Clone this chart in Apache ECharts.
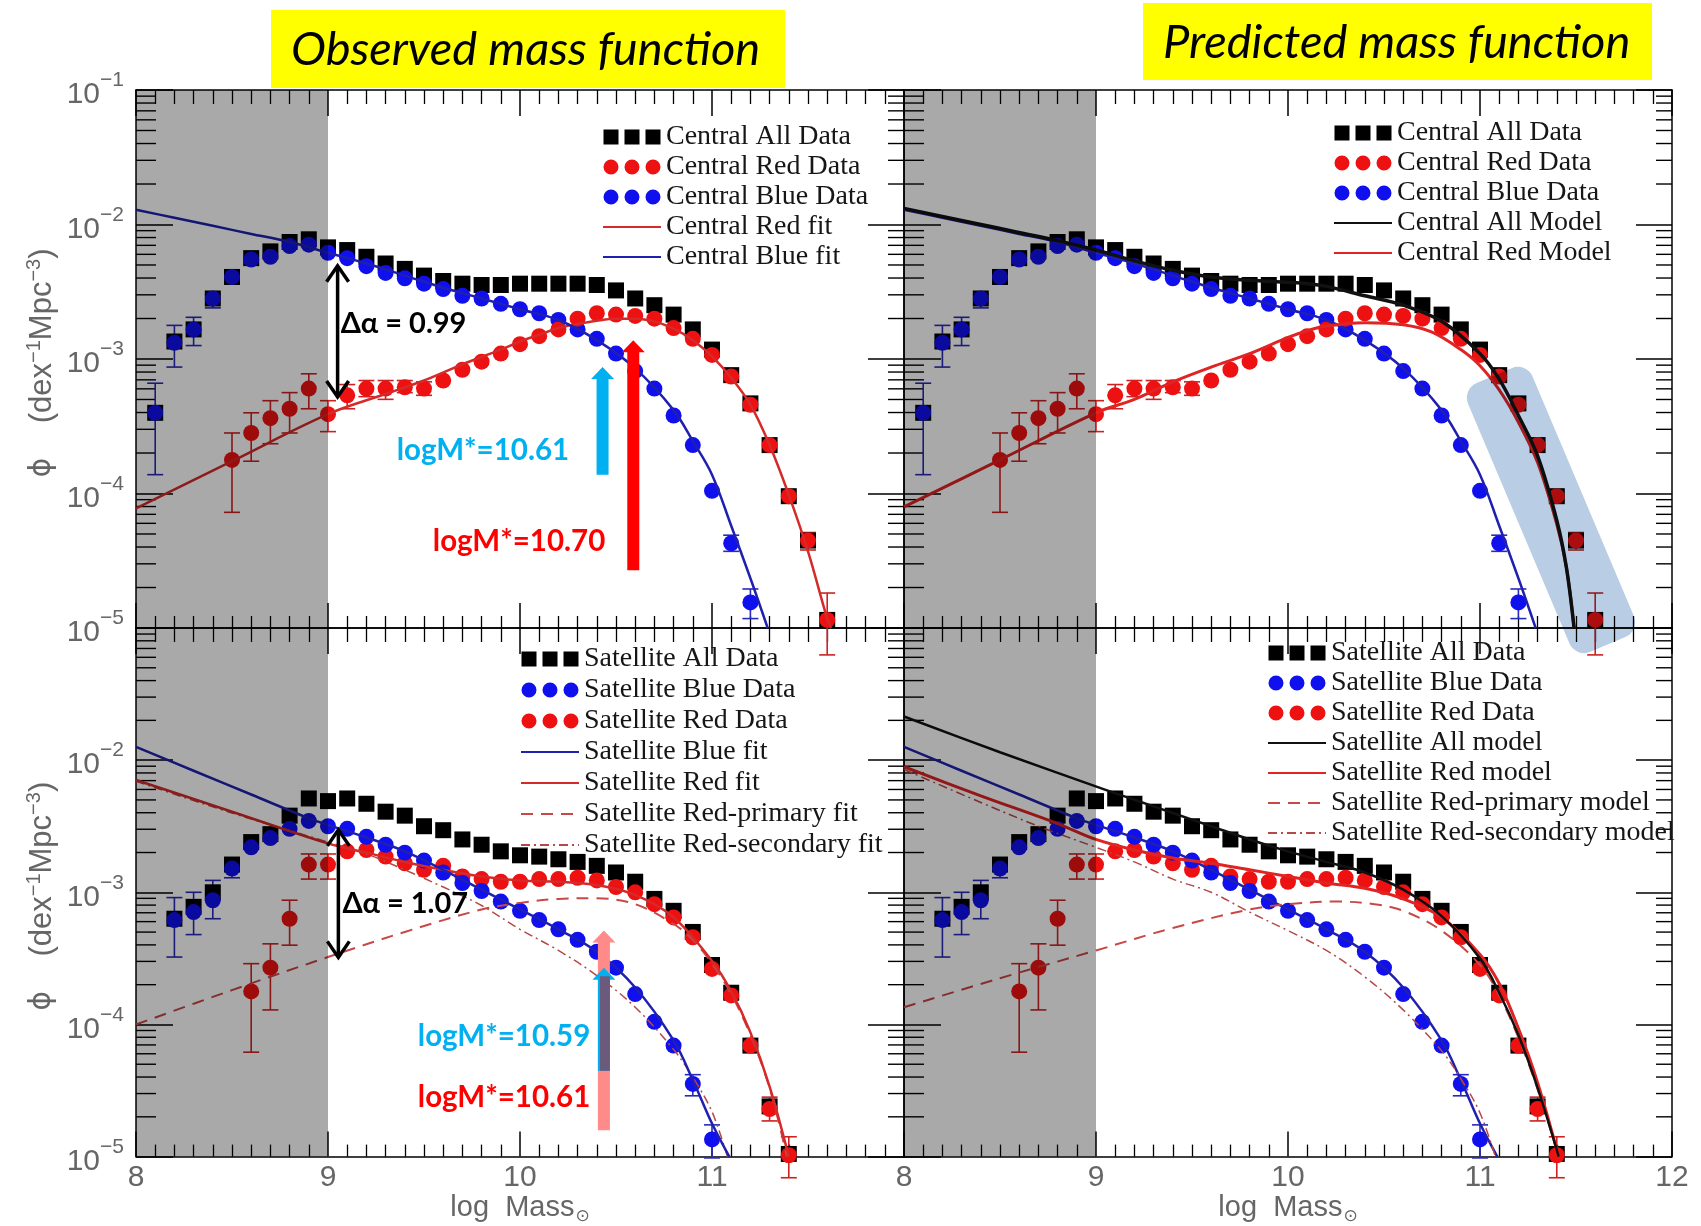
<!DOCTYPE html>
<html>
<head>
<meta charset="utf-8">
<script src="https://cdn.jsdelivr.net/npm/echarts@6/dist/echarts.min.js"></script>
<style>
html,body{margin:0;padding:0;background:#ffffff;}
#chart{width:1701px;height:1226px;}
</style>
</head>
<body>
<div id="chart"></div>
<script>
// ---------------- DATA (log10 of phi) ----------------
const xTicks = [8, 9, 10, 11, 12];
const xTickLabels = ['8', '9', '10', '11', '12'];
const yTickExps = [-5, -4, -3, -2, -1];
const yTickSups = ['\u22125', '\u22124', '\u22123', '\u22122', '\u22121'];

// Central galaxies (same observed data in both top panels)
const cenX = [8.1,8.2,8.3,8.4,8.5,8.6,8.7,8.8,8.9,9.0,9.1,9.2,9.3,9.4,9.5,9.6,9.7,9.8,9.9,10.0,10.1,10.2,10.3,10.4,10.5,10.6,10.7,10.8,10.9,11.0,11.1,11.2,11.3,11.4,11.5,11.6];
const cenAll = [-3.40,-2.87,-2.78,-2.55,-2.39,-2.25,-2.20,-2.13,-2.11,-2.17,-2.19,-2.24,-2.29,-2.33,-2.38,-2.42,-2.44,-2.45,-2.45,-2.44,-2.44,-2.44,-2.44,-2.45,-2.49,-2.55,-2.60,-2.67,-2.78,-2.93,-3.12,-3.33,-3.64,-4.02,-4.35,-4.94];
const cenBlueX = [8.1,8.2,8.3,8.4,8.5,8.6,8.7,8.8,8.9,9.0,9.1,9.2,9.3,9.4,9.5,9.6,9.7,9.8,9.9,10.0,10.1,10.2,10.3,10.4,10.5,10.6,10.7,10.8,10.9,11.0,11.1,11.2];
const cenBlue = [-3.40,-2.88,-2.78,-2.55,-2.39,-2.26,-2.24,-2.16,-2.15,-2.21,-2.25,-2.31,-2.36,-2.40,-2.44,-2.48,-2.53,-2.55,-2.59,-2.63,-2.66,-2.71,-2.78,-2.85,-2.96,-3.09,-3.22,-3.42,-3.64,-3.98,-4.37,-4.81];
const cenRedX = [8.5,8.6,8.7,8.8,8.9,9.0,9.1,9.2,9.3,9.4,9.5,9.6,9.7,9.8,9.9,10.0,10.1,10.2,10.3,10.4,10.5,10.6,10.7,10.8,10.9,11.0,11.1,11.2,11.3,11.4,11.5,11.6];
const cenRed = [-3.75,-3.55,-3.44,-3.37,-3.22,-3.41,-3.27,-3.22,-3.22,-3.21,-3.22,-3.16,-3.08,-3.02,-2.96,-2.89,-2.83,-2.78,-2.70,-2.66,-2.67,-2.68,-2.70,-2.77,-2.85,-2.97,-3.13,-3.34,-3.64,-4.02,-4.35,-4.94];
// error bars: [x, upper, lower]
const cenBlueErr = [[8.1,-3.18,-3.86],[8.2,-2.75,-3.06],[8.3,-2.69,-2.90],[8.4,-2.52,-2.62],[11.1,-4.31,-4.43],[11.2,-4.71,-4.93]];
const cenRedErr = [[8.5,-3.55,-4.14],[8.6,-3.40,-3.76],[8.7,-3.31,-3.63],[8.8,-3.25,-3.55],[8.9,-3.11,-3.37],[9.0,-3.31,-3.54],[9.1,-3.19,-3.37],[9.2,-3.16,-3.28],[9.3,-3.16,-3.30],[9.4,-3.16,-3.25],[9.5,-3.17,-3.27],[11.5,-4.29,-4.42],[11.6,-4.74,-5.2]];

// fits / models (central)
const cenBlueFitX = [8.0,8.2,8.4,8.6,8.8,9.0,9.2,9.4,9.6,9.8,10.0,10.2,10.4,10.6,10.8,10.9,11.0,11.1,11.2,11.29];
const cenBlueFit = [-1.89,-1.95,-2.01,-2.07,-2.13,-2.21,-2.29,-2.38,-2.47,-2.55,-2.63,-2.71,-2.86,-3.07,-3.38,-3.61,-3.86,-4.24,-4.63,-5.0];
const cenRedFitX = [8.0,8.5,9.0,9.3,9.5,9.7,9.9,10.0,10.1,10.2,10.3,10.4,10.5,10.6,10.7,10.8,10.9,11.0,11.1,11.2,11.3,11.4,11.5,11.6,11.62];
const cenRedFit = [-4.11,-3.76,-3.41,-3.26,-3.16,-3.04,-2.93,-2.87,-2.82,-2.77,-2.74,-2.715,-2.70,-2.70,-2.72,-2.775,-2.86,-2.98,-3.14,-3.34,-3.64,-4.01,-4.43,-4.93,-5.0];
const cenAllModelX = [8.0,8.4,8.8,9.0,9.2,9.4,9.6,9.8,10.0,10.1,10.2,10.4,10.6,10.8,11.0,11.1,11.2,11.3,11.4,11.45,11.49];
const cenAllModel = [-1.88,-2.00,-2.12,-2.19,-2.27,-2.34,-2.39,-2.415,-2.43,-2.44,-2.46,-2.53,-2.60,-2.72,-2.96,-3.15,-3.42,-3.72,-4.20,-4.55,-5.0];
const cenRedModelX = [8.0,8.5,9.0,9.2,9.4,9.6,9.8,10.0,10.1,10.2,10.4,10.6,10.75,10.9,11.0,11.1,11.2,11.3,11.4,11.45,11.49];
const cenRedModel = [-4.10,-3.75,-3.40,-3.30,-3.17,-3.06,-2.96,-2.84,-2.79,-2.755,-2.73,-2.745,-2.80,-2.93,-3.05,-3.23,-3.47,-3.77,-4.23,-4.55,-5.0];

// Satellite galaxies (same observed data in both bottom panels)
const satX = [8.2,8.3,8.4,8.5,8.6,8.7,8.8,8.9,9.0,9.1,9.2,9.3,9.4,9.5,9.6,9.7,9.8,9.9,10.0,10.1,10.2,10.3,10.4,10.5,10.6,10.7,10.8,10.9,11.0,11.1,11.2,11.3,11.4];
const satAll = [-3.20,-3.11,-3.00,-2.79,-2.62,-2.56,-2.42,-2.29,-2.31,-2.29,-2.33,-2.39,-2.42,-2.50,-2.53,-2.60,-2.64,-2.69,-2.72,-2.73,-2.75,-2.77,-2.80,-2.85,-2.92,-3.05,-3.14,-3.30,-3.55,-3.76,-4.16,-4.62,-4.98];
const satBlueX = [8.2,8.3,8.4,8.5,8.6,8.7,8.8,8.9,9.0,9.1,9.2,9.3,9.4,9.5,9.6,9.7,9.8,9.9,10.0,10.1,10.2,10.3,10.4,10.5,10.6,10.7,10.8,10.9,11.0];
const satBlue = [-3.21,-3.15,-3.06,-2.82,-2.66,-2.59,-2.52,-2.46,-2.50,-2.52,-2.58,-2.64,-2.70,-2.76,-2.85,-2.93,-2.99,-3.07,-3.14,-3.21,-3.28,-3.36,-3.45,-3.57,-3.77,-3.98,-4.16,-4.45,-4.87];
const satRedX = [8.6,8.7,8.8,8.9,9.0,9.1,9.2,9.3,9.4,9.5,9.6,9.7,9.8,9.9,10.0,10.1,10.2,10.3,10.4,10.5,10.6,10.7,10.8,10.9,11.0,11.1,11.2,11.3,11.4];
const satRed = [-3.75,-3.57,-3.20,-2.79,-2.79,-2.69,-2.68,-2.73,-2.78,-2.83,-2.80,-2.88,-2.90,-2.92,-2.92,-2.90,-2.90,-2.89,-2.91,-2.96,-3.00,-3.09,-3.19,-3.34,-3.58,-3.78,-4.16,-4.64,-4.99];
const satBlueErr = [[8.2,-3.04,-3.49],[8.3,-3.00,-3.32],[8.4,-2.91,-3.20],[8.5,-2.76,-2.89],[10.9,-4.38,-4.54],[11.0,-4.76,-5.01]];
const satRedErr = [[8.6,-3.54,-4.21],[8.7,-3.39,-3.89],[8.8,-3.06,-3.40],[8.9,-2.71,-2.90],[9.0,-2.71,-2.90],[11.3,-4.55,-4.73],[11.4,-4.85,-5.16]];

// fits / models (satellite)
const satBlueFitX = [8.0,8.3,8.6,8.9,9.0,9.2,9.4,9.6,9.8,10.0,10.2,10.4,10.6,10.8,10.9,11.0,11.09];
const satBlueFit = [-1.90,-2.08,-2.26,-2.44,-2.49,-2.585,-2.69,-2.83,-2.98,-3.13,-3.28,-3.45,-3.72,-4.12,-4.42,-4.75,-5.0];
const satRedFitX = [8.0,8.5,9.0,9.2,9.4,9.6,9.8,10.0,10.2,10.4,10.6,10.8,11.0,11.1,11.2,11.3,11.4];
const satRedFit = [-2.15,-2.39,-2.63,-2.70,-2.77,-2.83,-2.88,-2.91,-2.92,-2.945,-3.02,-3.19,-3.52,-3.75,-4.06,-4.47,-5.0];
const satRedPrimFitX = [8.0,8.5,9.0,9.4,9.8,10.0,10.2,10.4,10.6,10.8,10.9,11.0,11.1,11.2,11.3,11.39];
const satRedPrimFit = [-4.00,-3.74,-3.49,-3.30,-3.13,-3.08,-3.05,-3.045,-3.09,-3.24,-3.36,-3.54,-3.77,-4.08,-4.48,-5.0];
const satRedSecFitX = [8.0,8.5,9.0,9.2,9.4,9.6,9.8,10.0,10.2,10.4,10.6,10.8,10.9,11.0,11.08];
const satRedSecFit = [-2.16,-2.40,-2.62,-2.71,-2.83,-2.96,-3.10,-3.28,-3.44,-3.63,-3.87,-4.19,-4.40,-4.66,-5.0];
const satAllModelX = [8.0,8.5,9.05,9.2,9.4,9.6,9.8,10.0,10.2,10.4,10.6,10.8,11.0,11.1,11.2,11.3,11.41];
const satAllModel = [-1.67,-1.94,-2.225,-2.30,-2.40,-2.50,-2.60,-2.69,-2.77,-2.85,-2.98,-3.18,-3.50,-3.76,-4.08,-4.48,-5.0];
const satRedModelX = [8.0,8.4,8.8,9.0,9.2,9.4,9.6,9.8,10.0,10.2,10.4,10.6,10.8,11.0,11.1,11.2,11.3,11.41];
const satRedModel = [-2.05,-2.27,-2.48,-2.60,-2.68,-2.74,-2.78,-2.83,-2.88,-2.93,-2.97,-3.05,-3.19,-3.47,-3.69,-4.03,-4.44,-5.0];
const satRedPrimModelX = [8.0,8.5,9.0,9.4,9.8,10.0,10.25,10.45,10.6,10.8,11.0,11.1,11.2,11.3,11.41];
const satRedPrimModel = [-3.87,-3.65,-3.44,-3.27,-3.13,-3.09,-3.07,-3.09,-3.14,-3.29,-3.55,-3.78,-4.10,-4.49,-5.0];
const satRedSecModelX = [8.0,8.4,8.7,9.0,9.2,9.4,9.6,9.8,10.0,10.2,10.4,10.6,10.8,10.9,11.0,11.08];
const satRedSecModel = [-2.07,-2.32,-2.50,-2.66,-2.77,-2.90,-3.00,-3.15,-3.29,-3.44,-3.64,-3.89,-4.20,-4.41,-4.67,-5.0];

// completeness-limit shading range (log mass)
const shadeRange = [8, 9];

// annotations (data coordinates)
const annTL = [
  {kind:'dbl', x:9.05, y0:-2.30, y1:-3.29},
  {kind:'arrow', x:10.43, y0:-3.86, y1:-3.06, color:'#00b0f0'},
  {kind:'arrow', x:10.59, y0:-4.57, y1:-2.86, color:'#ff0000'},
  {kind:'text', x:9.066, y:-2.735, text:'\u0394\u03b1 = 0.99', color:'#000000', size:29},
  {kind:'text', x:9.358, y:-3.682, text:'logM*=10.61', color:'#00b0f0', size:29.5},
  {kind:'text', x:9.546, y:-4.36, text:'logM*=10.70', color:'#ff0000', size:29.5}
];
const annBL = [
  {kind:'dbl', x:9.054, y0:-2.52, y1:-3.50},
  {kind:'arrow', x:10.437, y0:-4.80, y1:-3.29, color:'#ff8a8a'},
  {kind:'arrow', x:10.437, y0:-4.35, y1:-3.57, color:'#00b0f0'},
  {kind:'bar', x:10.437, y0:-4.35, y1:-3.635, color:'#6b5a7c'},
  {kind:'text', x:9.075, y:-3.086, text:'\u0394\u03b1 = 1.07', color:'#000000', size:29},
  {kind:'text', x:9.468, y:-4.088, text:'logM*=10.59', color:'#00b0f0', size:29.5},
  {kind:'text', x:9.468, y:-4.549, text:'logM*=10.61', color:'#ff0000', size:29.5}
];

// ---------------- STYLE ----------------
const BLUE = '#1010ee', RED = '#ee1111', BLACK = '#000000';
const BLUE_ERR = '#2a2ab8', RED_ERR = '#cc2222';
const FIT_BLUE = {color:'#2020b0', width:2.5, type:'solid'};
const FIT_RED = {color:'#d42a2a', width:2.5, type:'solid'};
const MODEL_BLACK = {color:'#111111', width:3.5, type:'solid'};
const MODEL_RED = {color:'#e02424', width:3, type:'solid'};
const DASHED = {color:'#c84848', width:2, type:[12,8]};
const DASHDOT = {color:'#b84848', width:1.5, type:[9,4,2,4]};
const AXTXT = '#666666', AXFONT = 'Liberation Sans';
const SQ = 'path://M0,0h10v10h-10zM14,0h10v10h-10zM28,0h10v10h-10z';
const CI = 'path://M0,5a5,5 0 1,1 10,0a5,5 0 1,1 -10,0zM14,5a5,5 0 1,1 10,0a5,5 0 1,1 -10,0zM28,5a5,5 0 1,1 10,0a5,5 0 1,1 -10,0z';

const P = v => Math.pow(10, v);
const pts = (xs, ys) => xs.map((x, i) => [x, P(ys[i])]);

function makeYLabel(skip){
  return function(v){
    const e = Math.round(Math.log10(v));
    const i = yTickExps.indexOf(e);
    if (i < 0 || skip.indexOf(e) >= 0) return '';
    return '{b|10}{s|' + yTickSups[i] + '}';
  };
}
function xLabel(v){
  const i = xTicks.indexOf(Math.round(v));
  return i < 0 ? '' : xTickLabels[i];
}

const gridsPx = [
  {left:136, top:90, width:768, height:538},
  {left:904, top:90, width:768, height:538},
  {left:136, top:628, width:768, height:537},
  {left:904, top:628, width:768, height:537}
];

const tickLine = {color:'#000', width:1.5};
const xAxes = [], yAxes = [];
for (let gi = 0; gi < 4; gi++) {
  const bottomRow = gi >= 2;
  xAxes.push({
    gridIndex: gi, type:'value', min:8, max:12, interval:1, position:'bottom',
    axisLine:{show:true, onZero:false, lineStyle:tickLine},
    axisTick:{show:true, inside:true, length:25, lineStyle:tickLine},
    minorTick:{show:true, splitNumber:10, length:12, lineStyle:{color:'#000', width:1.3}},
    splitLine:{show:false},
    axisLabel:{show:bottomRow, showMaxLabel: gi === 3, showMinLabel:true, fontSize:30, color:AXTXT, fontFamily:AXFONT, margin:6, formatter:xLabel},
    name: bottomRow ? '{t|log  Mass}{s|\u2299}' : '',
    nameLocation:'middle', nameGap:30,
    nameTextStyle:{rich:{
      t:{fontSize:29, color:AXTXT, fontFamily:AXFONT, lineHeight:34},
      s:{fontSize:17, color:AXTXT, fontFamily:'DejaVu Sans', lineHeight:34, verticalAlign:'bottom', padding:[12,0,0,1]}
    }}
  });
  xAxes.push({
    gridIndex: gi, type:'value', min:8, max:12, interval:1, position:'top',
    axisLine:{show:true, onZero:false, lineStyle:tickLine},
    axisTick:{show:true, inside:true, length:26, lineStyle:tickLine},
    minorTick:{show:true, splitNumber:10, length:14, lineStyle:{color:'#000', width:1.3}},
    splitLine:{show:false}, axisLabel:{show:false}
  });
  const leftLabels = (gi === 0 || gi === 2);
  yAxes.push({
    gridIndex: gi, type:'log', logBase:10, min:1e-5, max:1e-1, splitNumber:4, position:'left',
    axisLine:{show:true, onZero:false, lineStyle:tickLine},
    axisTick:{show:true, inside:true, length:37, lineStyle:tickLine},
    splitLine:{show:false},
    axisLabel:{show:leftLabels, margin:12, formatter: makeYLabel(gi === 2 ? [-1] : []),
      rich:{
        b:{fontSize:30, color:AXTXT, fontFamily:AXFONT, lineHeight:40, verticalAlign:'bottom'},
        s:{fontSize:21, color:AXTXT, fontFamily:AXFONT, lineHeight:30, verticalAlign:'top'}
      }},
    name: leftLabels ? '{p|\u03d5}{t|    (dex}{s|\u22121}{t|Mpc}{s|\u22123}{t|)}' : '',
    nameLocation:'middle', nameRotate:90, nameGap:76,
    nameTextStyle:{padding:[0,8,0,0], rich:{
      p:{fontSize:30, color:AXTXT, fontFamily:'DejaVu Sans', lineHeight:36},
      t:{fontSize:31, color:AXTXT, fontFamily:AXFONT, lineHeight:36},
      s:{fontSize:20, color:AXTXT, fontFamily:AXFONT, lineHeight:24, verticalAlign:'top'}
    }}
  });
  yAxes.push({
    gridIndex: gi, type:'log', logBase:10, min:1e-5, max:1e-1, splitNumber:4, position:'right',
    axisLine:{show:true, onZero:false, lineStyle:tickLine},
    axisTick:{show:true, inside:true, length:36, lineStyle:tickLine},
    splitLine:{show:false}, axisLabel:{show:false}
  });
}

function scat(name, gi, xs, ys, symbol, color){
  return {type:'scatter', name, xAxisIndex:gi*2, yAxisIndex:gi*2, data:pts(xs, ys),
    symbol, symbolSize:16, itemStyle:{color, opacity:1}, z:2, silent:true, animation:false};
}
function curve(name, gi, xs, ys, st){
  return {type:'line', name, xAxisIndex:gi*2, yAxisIndex:gi*2, data:pts(xs, ys),
    symbol:'none', showSymbol:false, smooth:0.35,
    lineStyle:{color:st.color, width:st.width, type:st.type}, itemStyle:{color:st.color},
    z:3, silent:true, animation:false};
}
function errBars(gi, arr, color){
  return {type:'custom', xAxisIndex:gi*2, yAxisIndex:gi*2, silent:true, z:2, animation:false,
    data: arr.map(e => [e[0], P(e[1]), P(e[2])]), encode:{x:0, y:[1,2]},
    renderItem:(p, api) => {
      const x = api.value(0);
      const a = api.coord([x, api.value(1)]), b = api.coord([x, api.value(2)]);
      const w = 8, st = {stroke:color, lineWidth:1.6};
      return {type:'group', children:[
        {type:'line', shape:{x1:a[0], y1:a[1], x2:b[0], y2:b[1]}, style:st},
        {type:'line', shape:{x1:a[0]-w, y1:a[1], x2:a[0]+w, y2:a[1]}, style:st},
        {type:'line', shape:{x1:b[0]-w, y1:b[1], x2:b[0]+w, y2:b[1]}, style:st}
      ]};
    }};
}
const minorVals = [];
for (let n = -5; n <= -2; n++) for (let k = 2; k <= 9; k++) minorVals.push(k * Math.pow(10, n));
function minorTicks(gi){
  return {type:'custom', xAxisIndex:gi*2, yAxisIndex:gi*2, silent:true, z:1, animation:false,
    data: minorVals.map(v => [8, v]), encode:{x:0, y:1},
    renderItem:(p, api) => {
      const v = api.value(1);
      const a = api.coord([8, v]), b = api.coord([12, v]);
      const st = {stroke:'#000', lineWidth:1.4};
      return {type:'group', children:[
        {type:'line', shape:{x1:a[0], y1:a[1], x2:a[0]+20, y2:a[1]}, style:st},
        {type:'line', shape:{x1:b[0]-16, y1:b[1], x2:b[0], y2:b[1]}, style:st}
      ]};
    }};
}
function shade(gi){
  return {type:'custom', xAxisIndex:gi*2, yAxisIndex:gi*2, silent:true, z:5, animation:false,
    data:[[shadeRange[0], 1e-1, shadeRange[1], 1e-5]], encode:{x:[0,2], y:[1,3]},
    renderItem:(p, api) => {
      const a = api.coord([api.value(0), api.value(1)]);
      const b = api.coord([api.value(2), api.value(3)]);
      return {type:'rect', shape:{x:a[0], y:a[1], width:b[0]-a[0], height:b[1]-a[1]},
        style:{fill:'rgba(0,0,0,0.336)'}};
    }};
}
function annot(gi, list){
  return {type:'custom', xAxisIndex:gi*2, yAxisIndex:gi*2, silent:true, z:6, animation:false,
    data: list.map(a => [a.x, P(a.kind === 'text' ? a.y : a.y1)]), encode:{x:0, y:1},
    renderItem:(p, api) => {
      const a = list[p.dataIndex];
      if (a.kind === 'text') {
        const c = api.coord([a.x, P(a.y)]);
        return {type:'text', x:c[0], y:c[1], style:{text:a.text, fill:a.color,
          font:'bold ' + a.size + 'px Lato', align:'left', textAlign:'left', verticalAlign:'middle', textVerticalAlign:'middle'}};
      }
      const t = api.coord([a.x, P(a.y0)]), h = api.coord([a.x, P(a.y1)]);
      const cx = t[0];
      if (a.kind === 'dbl') {
        const st = {stroke:'#000', lineWidth:3.5, fill:'none'};
        return {type:'group', children:[
          {type:'line', shape:{x1:cx, y1:t[1]+2, x2:cx, y2:h[1]-2}, style:st},
          {type:'polyline', shape:{points:[[cx-11, t[1]+17],[cx, t[1]+1],[cx+11, t[1]+17]]}, style:st},
          {type:'polyline', shape:{points:[[cx-11, h[1]-17],[cx, h[1]-1],[cx+11, h[1]-17]]}, style:st}
        ]};
      }
      if (a.kind === 'bar') {
        return {type:'rect', shape:{x:cx-4, y:h[1], width:10, height:t[1]-h[1]}, style:{fill:a.color}};
      }
      const w = 12, hw = 23, hh = 12;
      return {type:'polygon', shape:{points:[
        [cx-w/2, t[1]], [cx+w/2, t[1]], [cx+w/2, h[1]+hh], [cx+hw/2, h[1]+hh],
        [cx, h[1]], [cx-hw/2, h[1]+hh], [cx-w/2, h[1]+hh]]}, style:{fill:a.color}};
    }};
}

const series = [
  // Top-left: observed, central
  scat('Central All Data', 0, cenX, cenAll, 'rect', BLACK),
  scat('Central Blue Data', 0, cenBlueX, cenBlue, 'circle', BLUE),
  scat('Central Red Data', 0, cenRedX, cenRed, 'circle', RED),
  errBars(0, cenBlueErr, BLUE_ERR), errBars(0, cenRedErr, RED_ERR),
  curve('Central Red fit', 0, cenRedFitX, cenRedFit, FIT_RED),
  curve('Central Blue fit', 0, cenBlueFitX, cenBlueFit, FIT_BLUE),
  shade(0), minorTicks(0), annot(0, annTL),
  // Top-right: predicted, central
  scat('Central All Data', 1, cenX, cenAll, 'rect', BLACK),
  scat('Central Blue Data', 1, cenBlueX, cenBlue, 'circle', BLUE),
  scat('Central Red Data', 1, cenRedX, cenRed, 'circle', RED),
  errBars(1, cenBlueErr, BLUE_ERR), errBars(1, cenRedErr, RED_ERR),
  curve('Central Blue fit', 1, cenBlueFitX, cenBlueFit, FIT_BLUE),
  curve('Central Red Model', 1, cenRedModelX, cenRedModel, MODEL_RED),
  curve('Central All Model', 1, cenAllModelX, cenAllModel, MODEL_BLACK),
  shade(1), minorTicks(1),
  // Bottom-left: observed, satellite
  scat('Satellite All Data', 2, satX, satAll, 'rect', BLACK),
  scat('Satellite Red Data', 2, satRedX, satRed, 'circle', RED),
  scat('Satellite Blue Data', 2, satBlueX, satBlue, 'circle', BLUE),
  errBars(2, satBlueErr, BLUE_ERR), errBars(2, satRedErr, RED_ERR),
  curve('Satellite Red-primary fit', 2, satRedPrimFitX, satRedPrimFit, DASHED),
  curve('Satellite Red-secondary fit', 2, satRedSecFitX, satRedSecFit, DASHDOT),
  curve('Satellite Red fit', 2, satRedFitX, satRedFit, FIT_RED),
  curve('Satellite Blue fit', 2, satBlueFitX, satBlueFit, FIT_BLUE),
  shade(2), minorTicks(2), annot(2, annBL),
  // Bottom-right: predicted, satellite
  scat('Satellite All Data', 3, satX, satAll, 'rect', BLACK),
  scat('Satellite Red Data', 3, satRedX, satRed, 'circle', RED),
  scat('Satellite Blue Data', 3, satBlueX, satBlue, 'circle', BLUE),
  errBars(3, satBlueErr, BLUE_ERR), errBars(3, satRedErr, RED_ERR),
  curve('Satellite Blue fit', 3, satBlueFitX, satBlueFit, FIT_BLUE),
  curve('Satellite Red-primary model', 3, satRedPrimModelX, satRedPrimModel, DASHED),
  curve('Satellite Red-secondary model', 3, satRedSecModelX, satRedSecModel, DASHDOT),
  curve('Satellite Red model', 3, satRedModelX, satRedModel, MODEL_RED),
  curve('Satellite All model', 3, satAllModelX, satAllModel, {color:'#111111', width:2.5, type:'solid'}),
  shade(3), minorTicks(3)
];

const legendText = {fontFamily:'Liberation Serif', fontSize:28, lineHeight:28, color:'#161616'};
const LN = name => ({name, itemStyle:{opacity:0}});
function legend(left, top, gap, items){
  return {left, top, orient:'vertical', padding:0, itemWidth:58, itemHeight:15, itemGap:gap,
    selectedMode:false, textStyle:legendText, data:items};
}
const legends = [
  legend(602, 123, 2, [{name:'Central All Data', icon:SQ}, {name:'Central Red Data', icon:CI}, {name:'Central Blue Data', icon:CI}, LN('Central Red fit'), LN('Central Blue fit')]),
  legend(1333, 119, 2, [{name:'Central All Data', icon:SQ}, {name:'Central Red Data', icon:CI}, {name:'Central Blue Data', icon:CI}, LN('Central All Model'), LN('Central Red Model')]),
  legend(520, 645, 3, [{name:'Satellite All Data', icon:SQ}, {name:'Satellite Blue Data', icon:CI}, {name:'Satellite Red Data', icon:CI}, LN('Satellite Blue fit'), LN('Satellite Red fit'), LN('Satellite Red-primary fit'), LN('Satellite Red-secondary fit')]),
  legend(1267, 639, 2, [{name:'Satellite All Data', icon:SQ}, {name:'Satellite Blue Data', icon:CI}, {name:'Satellite Red Data', icon:CI}, LN('Satellite All model'), LN('Satellite Red model'), LN('Satellite Red-primary model'), LN('Satellite Red-secondary model')])
];

const titleFont = 'italic 47px Lato';
const graphics = [
  {type:'rect', shape:{x:271, y:10, width:514, height:78}, style:{fill:'#ffff00'}, z:10},
  {type:'text', x:291, y:50, style:{text:'Observed mass function', font:titleFont, fill:'#000', verticalAlign:'middle', textVerticalAlign:'middle'}, z:11},
  {type:'rect', shape:{x:1143, y:3, width:509, height:77}, style:{fill:'#ffff00'}, z:10},
  {type:'text', x:1163, y:43, style:{text:'Predicted mass function', font:titleFont, fill:'#000', verticalAlign:'middle', textVerticalAlign:'middle'}, z:11},
  {type:'rect', x:1551, y:510, rotation:0.4, shape:{x:-35, y:-146, width:70, height:292, r:16},
    style:{fill:'#b9cde4', blend:'multiply'}, z:100}
];

const chart = echarts.init(document.getElementById('chart'), null, {renderer:'canvas'});
chart.setOption({
  backgroundColor:'#ffffff',
  animation:false,
  grid: gridsPx,
  xAxis: xAxes,
  yAxis: yAxes,
  legend: legends,
  series: series,
  graphic: graphics
});
</script>
</body>
</html>
